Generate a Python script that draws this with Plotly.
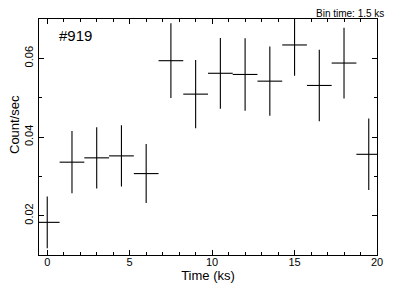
import plotly.graph_objects as go

time_ks = [0, 1.5, 3, 4.5, 6, 7.5, 9, 10.5, 12, 13.5, 15, 16.5, 18, 19.5]
rate = [0.0183, 0.0336, 0.0347, 0.0352, 0.0307, 0.0594, 0.0509, 0.0562, 0.0559, 0.0542, 0.0634, 0.0531, 0.0588, 0.0356]
rate_err = [0.0066, 0.0079, 0.0078, 0.0078, 0.0075, 0.0095, 0.0087, 0.0090, 0.0092, 0.0088, 0.0078, 0.0091, 0.0090, 0.0091]
half_bin = [0.75] * len(time_ks)

font = "Liberation Sans, Arial, sans-serif"

fig = go.Figure()
fig.add_trace(go.Scatter(
    x=time_ks, y=rate, mode="markers",
    marker=dict(size=0.1, color="black"),
    error_x=dict(type="data", array=half_bin, symmetric=True, width=0, thickness=1.1, color="black"),
    error_y=dict(type="data", array=rate_err, symmetric=True, width=0, thickness=1.1, color="black"),
    showlegend=False, cliponaxis=True,
))

axis_common = dict(
    showline=True, linecolor="black", linewidth=1.3, mirror="allticks",
    ticks="inside", ticklen=5, tickcolor="black", tickwidth=1,
    showgrid=False, zeroline=False, automargin=False,
    tickfont=dict(family=font, size=11, color="black"),
)

fig.update_xaxes(
    range=[-0.5, 20], tickvals=[0, 5, 10, 15, 20],
    ticklabelstandoff=-3,
    minor=dict(ticks="inside", dtick=1, ticklen=3, tickcolor="black", tickwidth=1),
    title=dict(text="Time (ks)", font=dict(family=font, size=13, color="black"), standoff=0),
    **axis_common,
)
fig.update_yaxes(
    range=[0.01, 0.07], tickvals=[0.02, 0.04, 0.06], ticktext=["0.02", "0.04", "0.06"],
    tickangle=-90,
    minor=dict(ticks="inside", dtick=0.01, ticklen=3, tickcolor="black", tickwidth=1),
    **axis_common,
)

fig.add_annotation(x=-0.074, y=0.555, xref="paper", yref="paper", text="Count/sec",
                   textangle=-90, showarrow=False, xanchor="center", yanchor="middle",
                   font=dict(family=font, size=13, color="black"))
fig.add_annotation(x=0.053, y=0.975, xref="paper", yref="paper", text="#919",
                   showarrow=False, xanchor="left", yanchor="top",
                   font=dict(family=font, size=15, color="black"))
fig.add_annotation(x=1.027, y=1.0, xref="paper", yref="paper", text="Bin time: 1.5 ks",
                   showarrow=False, xanchor="right", yanchor="bottom", yshift=-2,
                   font=dict(family=font, size=10, color="black"))

fig.update_layout(
    width=400, height=291,
    margin=dict(l=31, r=31, t=11, b=44),
    paper_bgcolor="white", plot_bgcolor="white",
)

fig.write_html("out.html")
